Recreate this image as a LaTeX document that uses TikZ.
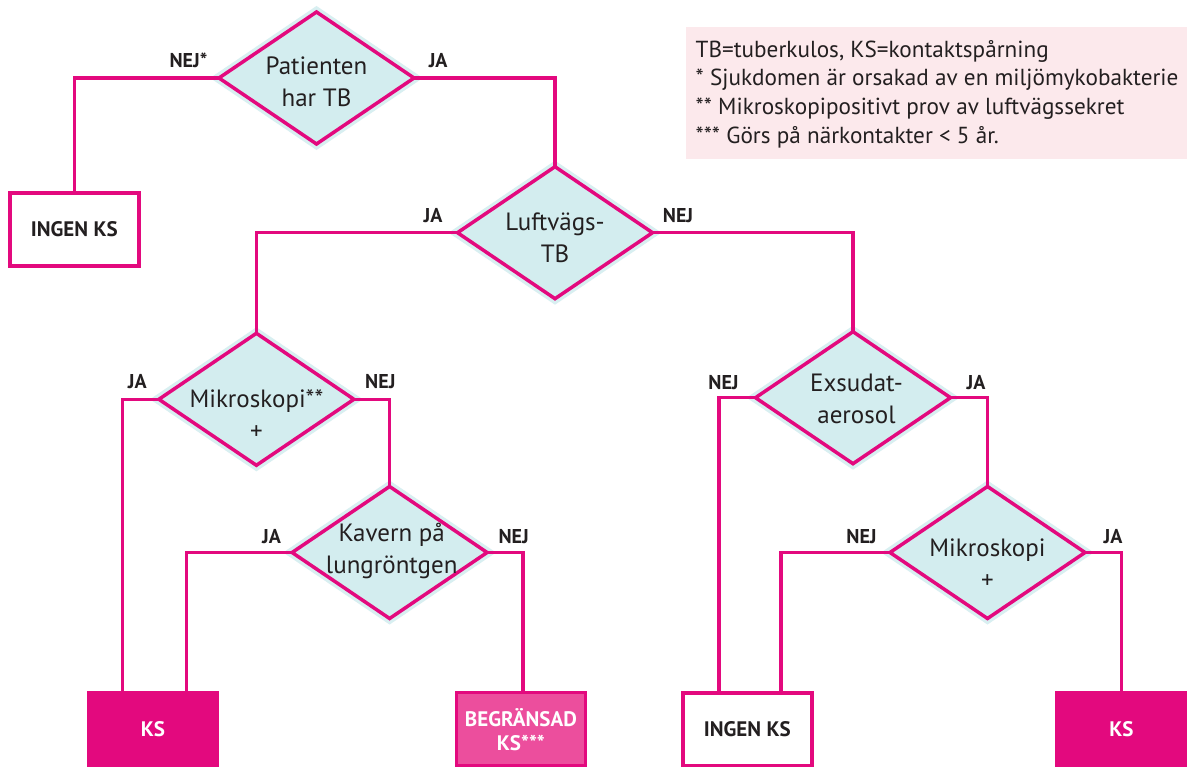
\documentclass[tikz,border=0pt]{standalone}
\usepackage{fontspec}
\setmainfont{PT Sans}
\usetikzlibrary{shapes.geometric}

\definecolor{tbpink}{HTML}{E3097E}
\definecolor{tbpinklight}{HTML}{EC4E9D}
\definecolor{tbcyan}{HTML}{D3EDEF}
\definecolor{tbhalo}{HTML}{D8EFF1}
\definecolor{tbnote}{HTML}{FCE9EC}
\definecolor{tbtext}{HTML}{231F20}

\tikzset{
  question/.style={diamond, minimum width=195pt, minimum height=132pt,
    inner sep=0pt, outer sep=0pt, fill=tbcyan, draw=tbpink, line width=3.5pt,
    preaction={draw=tbhalo, line width=10pt}},
  % multi-line texts: the base anchor sits on the last line
  qtext/.style={align=center, text=tbtext, inner sep=0pt, anchor=base,
    font=\fontsize{25}{32}\selectfont},
  answer/.style={text=tbtext, inner sep=0pt, anchor=base,
    font=\fontsize{20}{24}\selectfont\bfseries},
  outcome/.style={rectangle, minimum width=129pt, minimum height=73pt,
    inner sep=0pt, outer sep=0pt, line width=3.5pt, draw=tbpink, align=center,
    font=\fontsize{21}{24}\selectfont\bfseries},
  noks/.style={outcome, fill=white, text=tbtext},
  fullks/.style={outcome, fill=tbpink, text=white},
  limitedks/.style={outcome, fill=tbpinklight, text=white},
  flow/.style={draw=tbpink, line width=3.5pt, line join=miter},
}

\begin{document}
\begin{tikzpicture}[x=1pt, y=-1pt]
  \useasboundingbox (0,0) rectangle (1187,767);
  \clip (0,0) rectangle (1187,767);
  \fill[white] (0,0) rectangle (1187,767);

  % legend
  \node[fill=tbnote, anchor=north west, minimum width=510pt, minimum height=131.4pt,
        inner sep=0pt] (legend) at (685.4,27.3) {};
  \node[anchor=base west, align=left, inner sep=0pt, text=tbtext,
        font=\fontsize{23.2}{28.7}\selectfont] (legendtext) at (695.5,143.4)
    {TB=tuberkulos, KS=kontaktspårning\\
     * Sjukdomen är orsakad av en miljömykobakterie\\
     ** Mikroskopipositivt prov av luftvägssekret\\
     *** Görs på närkontakter < 5 år.};

  % decisions
  \node[question] (p)  at (316.5,78)   {};
  \node[question] (l)  at (555,232.7)  {};
  \node[question] (m1) at (256.4,399.3) {};
  \node[question] (k)  at (389.6,552.5) {};
  \node[question] (e)  at (853,397.7)  {};
  \node[question] (m2) at (987.5,552.5) {};

  \node[qtext] (pt)  at (316.5,106.5) {Patienten\\har TB};
  \node[qtext] (lt)  at (555,263)     {Luftvägs-\\TB};
  \node[qtext] (m1t) at (256.4,439)   {Mikroskopi**\\+};
  \node[qtext] (kt)  at (391.7,573.3) {Kavern på\\lungröntgen};
  \node[qtext] (et)  at (856.5,423.5) {Exsudat-\\aerosol};
  \node[qtext] (m2t) at (987.5,588)   {Mikroskopi\\+};

  % outcomes
  \node[noks]      (ingen1) at (74.3,229.4)  {INGEN KS};
  \node[fullks]    (ks1)    at (153,729.5)   {KS};
  \node[limitedks] (beg)    at (520.9,729.2) {BEGRÄNSAD\\KS***};
  \node[noks]      (ingen2) at (747.3,729.3) {INGEN KS};
  \node[fullks]    (ks2)    at (1121.5,729)  {KS};

  % connectors
  \draw[flow] (p.west)  -| (ingen1.north);
  \draw[flow] (p.east)  -| (l.north);
  \draw[flow] (l.west)  -| (m1.north);
  \draw[flow] (l.east)  -| (e.north);
  \draw[flow] (m1.west) -| ([xshift=-30.5pt]ks1.north);
  \draw[flow] (m1.east) -| (k.north);
  \draw[flow] (k.west)  -| ([xshift=33.4pt]ks1.north);
  \draw[flow] (k.east)  -| ([xshift=2.2pt]beg.north);
  \draw[flow] (e.west)  -| ([xshift=-28.3pt]ingen2.north);
  \draw[flow] (e.east)  -| (m2.north);
  \draw[flow] (m2.west) -| ([xshift=33.5pt]ingen2.north);
  \draw[flow] (m2.east) -| (ks2.north);

  % branch labels
  \node[answer] (a1)  at (188.5,68)  {NEJ*};
  \node[answer] (a2)  at (438.2,68)  {JA};
  \node[answer] (a3)  at (433,223)   {JA};
  \node[answer] (a4)  at (678,223)   {NEJ};
  \node[answer] (a5)  at (137.3,389) {JA};
  \node[answer] (a6)  at (380.3,389) {NEJ};
  \node[answer] (a7)  at (271.5,543) {JA};
  \node[answer] (a8)  at (513.7,543) {NEJ};
  \node[answer] (a9)  at (723.5,390) {NEJ};
  \node[answer] (a10) at (976,390)   {JA};
  \node[answer] (a11) at (861.5,543) {NEJ};
  \node[answer] (a12) at (1113,543)  {JA};
\end{tikzpicture}
\end{document}
